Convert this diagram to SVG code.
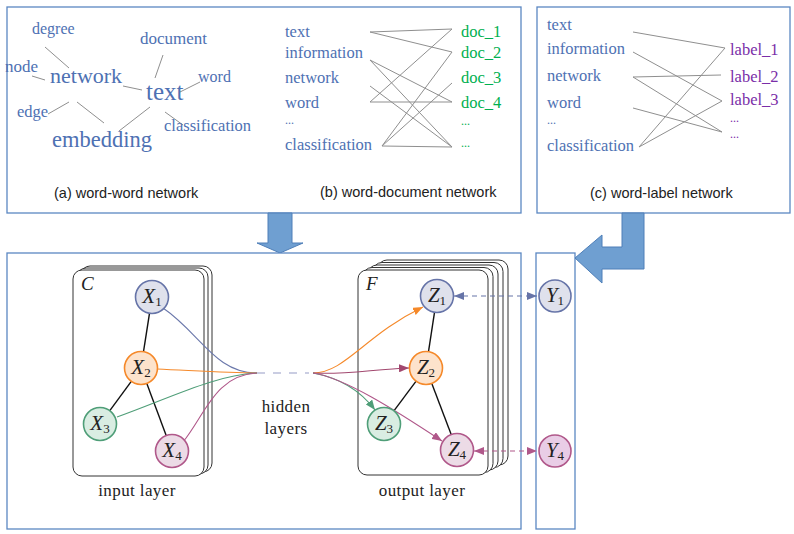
<svg xmlns="http://www.w3.org/2000/svg" width="794" height="534" viewBox="0 0 794 534">
<style>
.panel{fill:#fff;stroke:#5b87c2;stroke-width:1.3}
.bigarrow{fill:#6f9fd1;stroke:#4f7fb8;stroke-width:1}
.w{font-family:"Liberation Serif","Times New Roman",serif;fill:#4e71b3}
.g{font-family:"Liberation Serif","Times New Roman",serif;fill:#00b050;font-size:16.5px}
.p{font-family:"Liberation Serif","Times New Roman",serif;fill:#7a2ea8;font-size:16.5px}
.l{font-size:16.5px}
.d{font-size:12px}
.cap{font-family:"Liberation Sans",Arial,sans-serif;font-size:14.5px;fill:#222}
.gl{stroke:#8f8f8f;stroke-width:1;fill:none}
.card{fill:#fff;stroke:#333;stroke-width:1}
.lbl{font-family:"Liberation Serif","Times New Roman",serif;font-size:17px;letter-spacing:0.4px;fill:#222}
.nl{font-family:"Liberation Serif","Times New Roman",serif;fill:#222;text-anchor:middle}
.nl .v{font-style:italic;font-size:21px}
.nl .s{font-size:13px}
.it{font-family:"Liberation Serif","Times New Roman",serif;font-style:italic;font-size:19px;fill:#222}
.nb{fill:#dfe1ec;stroke:#6674a8;stroke-width:1.6}
.no{fill:#fde3cc;stroke:#f5892a;stroke-width:1.6}
.ng{fill:#d9ede2;stroke:#4f9e78;stroke-width:1.6}
.np{fill:#ecdbe6;stroke:#b0588a;stroke-width:1.6}
.ny{fill:#e9cde6;stroke:#b0588a;stroke-width:1.6}
.edge{stroke:#111;stroke-width:1.4;fill:none}
.c{fill:none;stroke-width:1.1}
</style>
<defs>
<marker id="aO" viewBox="0 0 10 8" markerWidth="10" markerHeight="8" refX="10" refY="4" orient="auto" markerUnits="userSpaceOnUse"><path d="M0,0 L10,4 L0,8 z" fill="#f5892a"/></marker>
<marker id="aM" viewBox="0 0 10 8" markerWidth="10" markerHeight="8" refX="10" refY="4" orient="auto" markerUnits="userSpaceOnUse"><path d="M0,0 L10,4 L0,8 z" fill="#a2486f"/></marker>
<marker id="aG" viewBox="0 0 10 8" markerWidth="10" markerHeight="8" refX="10" refY="4" orient="auto" markerUnits="userSpaceOnUse"><path d="M0,0 L10,4 L0,8 z" fill="#4f9e78"/></marker>
<marker id="aP" viewBox="0 0 10 8" markerWidth="10" markerHeight="8" refX="10" refY="4" orient="auto-start-reverse" markerUnits="userSpaceOnUse"><path d="M0,0 L10,4 L0,8 z" fill="#b0588a"/></marker>
<marker id="aB" viewBox="0 0 10 8" markerWidth="10" markerHeight="8" refX="10" refY="4" orient="auto-start-reverse" markerUnits="userSpaceOnUse"><path d="M0,0 L10,4 L0,8 z" fill="#6674a8"/></marker>
</defs>

<g id="panel-ab">
<rect class="panel" x="7" y="7" width="514" height="206"/>
<g id="word-word">
<g class="gl">
<line x1="45" y1="47" x2="69" y2="68"/>
<line x1="32" y1="76" x2="45" y2="80"/>
<line x1="123" y1="86" x2="142" y2="90"/>
<line x1="163" y1="55" x2="155" y2="78"/>
<line x1="200" y1="82" x2="180" y2="92"/>
<line x1="48" y1="114" x2="69" y2="102"/>
<line x1="77" y1="102" x2="104" y2="123"/>
<line x1="150" y1="107" x2="119" y2="131"/>
<line x1="165" y1="112" x2="183" y2="125"/>
</g>
<text class="w" x="32" y="34" font-size="16">degree</text>
<text class="w" x="140" y="44" font-size="17">document</text>
<text class="w" x="5" y="72" font-size="17">node</text>
<text class="w" x="50" y="83" font-size="22">network</text>
<text class="w" x="198" y="82" font-size="16">word</text>
<text class="w" x="146" y="100" font-size="25">text</text>
<text class="w" x="17" y="117" font-size="16.5">edge</text>
<text class="w" x="164" y="131" font-size="16.5">classification</text>
<text class="w" x="52" y="147" font-size="22.5">embedding</text>
<text class="cap" x="54" y="198">(a) word-word network</text>
</g>
<g id="word-document">
<g class="gl">
<line x1="370" y1="32" x2="452" y2="29"/>
<line x1="370" y1="32" x2="452" y2="52"/>
<line x1="370" y1="60" x2="452" y2="102"/>
<line x1="370" y1="60" x2="452" y2="147"/>
<line x1="370" y1="86" x2="452" y2="147"/>
<line x1="370" y1="102" x2="452" y2="29"/>
<line x1="370" y1="102" x2="452" y2="102"/>
<line x1="382" y1="146" x2="452" y2="52"/>
<line x1="382" y1="146" x2="452" y2="83"/>
<line x1="382" y1="146" x2="452" y2="147"/>
</g>
<text class="w l" x="285" y="37">text</text>
<text class="w l" x="285" y="58">information</text>
<text class="w l" x="285" y="83">network</text>
<text class="w l" x="285" y="108">word</text>
<text class="w d" x="285" y="124">...</text>
<text class="w l" x="285" y="150">classification</text>
<text class="g" x="461" y="37">doc_1</text>
<text class="g" x="461" y="58">doc_2</text>
<text class="g" x="461" y="83">doc_3</text>
<text class="g" x="461" y="108">doc_4</text>
<text class="g d" x="461" y="125">...</text>
<text class="g d" x="461" y="147">...</text>
<text class="cap" x="320" y="197">(b) word-document network</text>
</g>
</g>

<g id="panel-c">
<rect class="panel" x="537" y="7" width="253" height="206"/>
<g class="gl">
<line x1="633" y1="32" x2="725" y2="48"/>
<line x1="633" y1="52" x2="722" y2="101"/>
<line x1="633" y1="77" x2="721" y2="75"/>
<line x1="633" y1="77" x2="722" y2="132"/>
<line x1="633" y1="108" x2="722" y2="132"/>
<line x1="639" y1="147" x2="725" y2="48"/>
<line x1="639" y1="147" x2="722" y2="101"/>
</g>
<text class="w l" x="547" y="30">text</text>
<text class="w l" x="547" y="54">information</text>
<text class="w l" x="547" y="81">network</text>
<text class="w l" x="547" y="108">word</text>
<text class="w d" x="547" y="124">...</text>
<text class="w l" x="547" y="151">classification</text>
<text class="p" x="730" y="55">label_1</text>
<text class="p" x="730" y="82">label_2</text>
<text class="p" x="730" y="105">label_3</text>
<text class="p d" x="730" y="122">...</text>
<text class="p d" x="730" y="138">...</text>
<text class="cap" x="590" y="198">(c) word-label network</text>
</g>

<g id="arrow-down">
<polygon class="bigarrow" points="268,213 292,213 292,243 303,243 280,253 257,243 268,243"/>
</g>

<g id="model-panel">
<rect class="panel" x="7" y="253" width="514" height="276"/>
</g>

<g id="label-panel">
<rect class="panel" x="536" y="253" width="39" height="276"/>
</g>

<g id="arrow-l">
<polygon class="bigarrow" points="622,213 644,213 644,269 602,269 602,283 575,258 602,235 602,247 622,247"/>
</g>

<g id="input-layer">
<rect class="card" x="81" y="266" width="131" height="206" rx="9"/>
<rect class="card" x="77" y="268" width="131" height="206" rx="9"/>
<rect class="card" x="73" y="270" width="131" height="206" rx="9"/>
<text class="it" x="81" y="290">C</text>
<text class="lbl" x="137" y="496" text-anchor="middle">input layer</text>
</g>

<g id="output-layer">
<rect class="card" x="378" y="260" width="130" height="205" rx="9"/>
<rect class="card" x="373" y="262.5" width="130" height="205" rx="9"/>
<rect class="card" x="368" y="265" width="130" height="205" rx="9"/>
<rect class="card" x="363" y="267.5" width="130" height="205" rx="9"/>
<rect class="card" x="358" y="270" width="130" height="205" rx="9"/>
<text class="it" x="366" y="290">F</text>
<text class="lbl" x="422" y="496" text-anchor="middle">output layer</text>
</g>

<g id="hidden-layers">
<line x1="257" y1="373" x2="309" y2="373" stroke="#b9bdd9" stroke-width="1.6" stroke-dasharray="8 8"/>
<text class="lbl" x="286" y="412" text-anchor="middle">hidden</text>
<text class="lbl" x="286" y="434" text-anchor="middle">layers</text>
</g>

<g id="connectors">
<line class="edge" x1="149.5" y1="313.3" x2="143.5" y2="351.7"/>
<line class="edge" x1="131.3" y1="381.3" x2="109.8" y2="410.7"/>
<line class="edge" x1="146.8" y1="383.5" x2="166.2" y2="435.5"/>
<line class="edge" x1="434.5" y1="312.3" x2="428.5" y2="351.7"/>
<line class="edge" x1="416.1" y1="381.2" x2="393.9" y2="410.8"/>
<line class="edge" x1="431.8" y1="383.4" x2="451.2" y2="434.6"/>
<path class="c" stroke="#6b78ab" d="M163,308 C200,333 215,373 257,373"/>
<path class="c" stroke="#f5892a" d="M157,369 C200,371 230,373 257,373"/>
<path class="c" stroke="#4f9e78" d="M117,417 C170,398 215,375 257,373"/>
<path class="c" stroke="#b0588a" d="M183,442 C205,415 215,375 257,373"/>
<path class="c" stroke="#f5892a" marker-end="url(#aO)" d="M313,373 C345,373 365,335 423,307"/>
<path class="c" stroke="#a2486f" marker-end="url(#aM)" d="M313,373 C345,375 375,369 409,368"/>
<path class="c" stroke="#4f9e78" marker-end="url(#aG)" d="M313,373 C340,378 360,390 375,410"/>
<path class="c" stroke="#b0588a" marker-end="url(#aP)" d="M313,373 C345,378 395,410 442,441"/>
<line x1="454" y1="296" x2="537" y2="296" stroke="#6674a8" stroke-width="1.2" stroke-dasharray="5 4" marker-start="url(#aB)" marker-end="url(#aB)"/>
<line x1="474" y1="451" x2="537" y2="451" stroke="#b0588a" stroke-width="1.2" stroke-dasharray="5 4" marker-start="url(#aP)" marker-end="url(#aP)"/>
</g>

<g id="X1"><circle class="nb" cx="152" cy="297" r="16.5"/><text class="nl" x="152" y="303"><tspan class="v">X</tspan><tspan class="s" dy="3">1</tspan></text></g>
<g id="X2"><circle class="no" cx="141" cy="368" r="16.5"/><text class="nl" x="141" y="374"><tspan class="v">X</tspan><tspan class="s" dy="3">2</tspan></text></g>
<g id="X3"><circle class="ng" cx="100" cy="424" r="16.5"/><text class="nl" x="100" y="430"><tspan class="v">X</tspan><tspan class="s" dy="3">3</tspan></text></g>
<g id="X4"><circle class="np" cx="172" cy="451" r="16.5"/><text class="nl" x="172" y="457"><tspan class="v">X</tspan><tspan class="s" dy="3">4</tspan></text></g>
<g id="Z1"><circle class="nb" cx="437" cy="296" r="16.5"/><text class="nl" x="437" y="302"><tspan class="v">Z</tspan><tspan class="s" dy="3">1</tspan></text></g>
<g id="Z2"><circle class="no" cx="426" cy="368" r="16.5"/><text class="nl" x="426" y="374"><tspan class="v">Z</tspan><tspan class="s" dy="3">2</tspan></text></g>
<g id="Z3"><circle class="ng" cx="384" cy="424" r="16.5"/><text class="nl" x="384" y="430"><tspan class="v">Z</tspan><tspan class="s" dy="3">3</tspan></text></g>
<g id="Z4"><circle class="np" cx="457" cy="450" r="16.5"/><text class="nl" x="457" y="456"><tspan class="v">Z</tspan><tspan class="s" dy="3">4</tspan></text></g>
<g id="Y1"><circle class="nb" cx="555" cy="296" r="16"/><text class="nl" x="555" y="302"><tspan class="v">Y</tspan><tspan class="s" dy="3">1</tspan></text></g>
<g id="Y4"><circle class="ny" cx="555" cy="451" r="16"/><text class="nl" x="555" y="457"><tspan class="v">Y</tspan><tspan class="s" dy="3">4</tspan></text></g>
</svg>
